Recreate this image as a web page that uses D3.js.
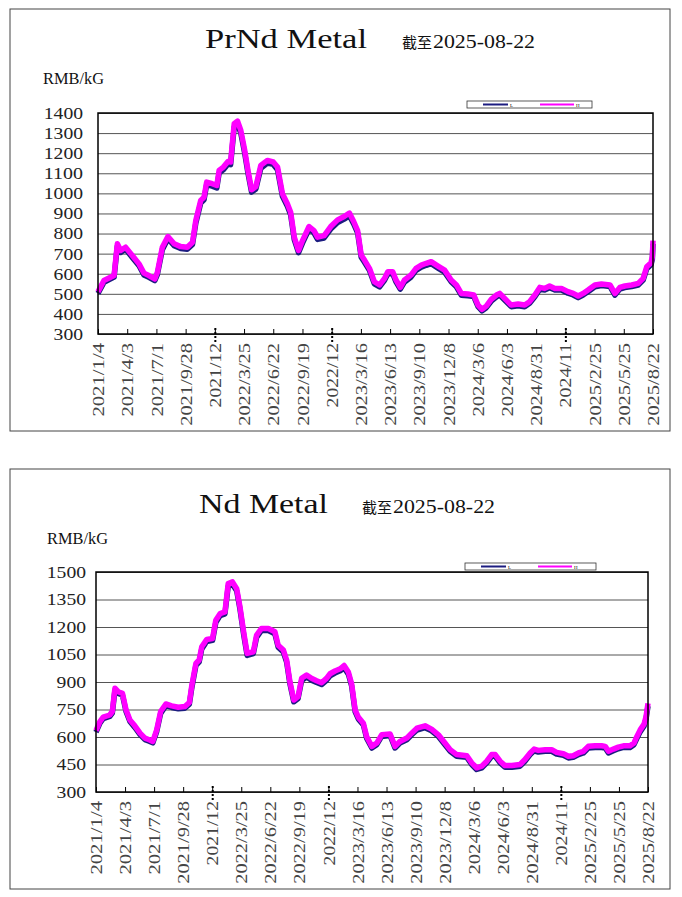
<!DOCTYPE html>
<html>
<head>
<meta charset="utf-8">
<script src="https://cdn.jsdelivr.net/npm/d3@7"></script>
<style>
  body { margin: 0; background: #fff; }
</style>
</head>
<body>
<svg id="chart" width="682" height="897"></svg>
<script>
// x axis: one label every 89 days
const tickDates = ["2021-01-04","2021-04-03","2021-07-01","2021-09-28","2021-12-26","2022-03-25","2022-06-22","2022-09-19","2022-12-17","2023-03-16","2023-06-13","2023-09-10","2023-12-08","2024-03-06","2024-06-03","2024-08-31","2024-11-28","2025-02-25","2025-05-25","2025-08-22"];
const tickLabels = ["2021/1/4","2021/4/3","2021/7/1","2021/9/28","2021/12","2022/3/25","2022/6/22","2022/9/19","2022/12","2023/3/16","2023/6/13","2023/9/10","2023/12/8","2024/3/6","2024/6/3","2024/8/31","2024/11","2025/2/25","2025/5/25","2025/8/22"];
const dottedLabels = ["2021/12","2022/12","2024/11"];

// PrNd metal, RMB/kG
const prndDates = ["2021-01-04","2021-01-22","2021-02-22","2021-03-04","2021-03-14","2021-03-29","2021-04-19","2021-05-09","2021-05-24","2021-06-08","2021-06-26","2021-07-04","2021-07-19","2021-08-05","2021-08-24","2021-09-13","2021-10-03","2021-10-19","2021-10-29","2021-11-13","2021-11-23","2021-12-01","2021-12-18","2022-01-01","2022-01-08","2022-01-21","2022-02-04","2022-02-12","2022-02-23","2022-03-05","2022-03-15","2022-03-27","2022-04-06","2022-04-17","2022-04-30","2022-05-15","2022-06-04","2022-06-22","2022-07-05","2022-07-20","2022-08-04","2022-08-14","2022-08-25","2022-09-07","2022-09-19","2022-10-09","2022-10-24","2022-11-04","2022-11-24","2022-12-14","2023-01-04","2023-01-24","2023-02-09","2023-02-22","2023-03-06","2023-03-17","2023-03-27","2023-04-11","2023-04-26","2023-05-12","2023-05-27","2023-06-06","2023-06-21","2023-07-01","2023-07-14","2023-07-27","2023-08-16","2023-08-31","2023-09-16","2023-10-01","2023-10-16","2023-11-06","2023-11-26","2023-12-16","2024-01-01","2024-01-16","2024-02-05","2024-02-23","2024-03-07","2024-03-19","2024-04-01","2024-04-16","2024-05-02","2024-05-12","2024-05-27","2024-06-16","2024-07-07","2024-07-27","2024-08-11","2024-08-27","2024-09-11","2024-09-26","2024-10-11","2024-10-27","2024-11-16","2024-12-06","2024-12-22","2025-01-06","2025-01-21","2025-02-05","2025-02-26","2025-03-18","2025-04-13","2025-04-28","2025-05-13","2025-05-28","2025-06-18","2025-07-08","2025-07-23","2025-08-03","2025-08-16","2025-08-20","2025-08-22"];
const prndHigh = [510,566,591,749,716,732,690,649,603,591,574,607,732,785,749,735,732,757,865,965,981,1056,1048,1039,1114,1131,1159,1156,1347,1360,1314,1214,1114,1018,1034,1139,1164,1156,1131,998,948,906,782,716,765,835,815,782,790,835,868,885,902,860,815,693,668,627,560,544,577,610,610,569,532,569,594,627,643,652,660,638,618,569,544,502,499,494,444,423,439,472,494,502,477,444,449,444,461,494,532,527,539,527,527,511,502,489,502,519,544,549,544,502,532,539,544,552,577,635,655,685,765];
const prndLow = [502,557,583,738,706,722,680,640,594,582,566,597,720,774,740,726,722,746,852,952,968,1043,1036,1027,1100,1118,1146,1143,1330,1345,1300,1200,1100,1006,1022,1125,1151,1144,1118,985,936,893,770,705,752,822,803,771,778,822,855,872,889,848,803,682,657,617,550,535,567,600,600,559,523,559,584,617,633,642,650,628,608,560,535,493,490,486,436,415,431,463,485,494,469,436,441,436,453,485,523,519,530,519,519,503,494,481,494,510,535,541,536,494,524,531,536,544,568,625,645,672,748];
const prndYTicks = [300,400,500,600,700,800,900,1000,1100,1200,1300,1400];

// Nd metal, RMB/kG
const ndDates = ["2021-01-04","2021-01-16","2021-01-26","2021-02-15","2021-02-23","2021-03-03","2021-03-13","2021-03-26","2021-04-06","2021-04-18","2021-05-03","2021-05-19","2021-06-03","2021-06-16","2021-06-27","2021-07-09","2021-07-21","2021-08-06","2021-08-24","2021-09-13","2021-10-03","2021-10-17","2021-10-24","2021-11-06","2021-11-16","2021-11-24","2021-12-09","2021-12-27","2022-01-06","2022-01-19","2022-02-03","2022-02-13","2022-02-26","2022-03-11","2022-03-21","2022-04-02","2022-04-12","2022-05-01","2022-05-11","2022-05-26","2022-06-16","2022-07-06","2022-07-16","2022-08-01","2022-08-11","2022-08-21","2022-09-02","2022-09-15","2022-09-26","2022-10-11","2022-10-26","2022-11-11","2022-11-26","2022-12-11","2022-12-22","2023-01-06","2023-01-22","2023-02-03","2023-02-16","2023-02-26","2023-03-09","2023-03-19","2023-04-03","2023-04-13","2023-04-29","2023-05-14","2023-05-29","2023-06-24","2023-07-09","2023-07-24","2023-08-14","2023-08-29","2023-09-14","2023-10-09","2023-10-29","2023-11-19","2023-12-09","2023-12-25","2024-01-14","2024-02-14","2024-02-29","2024-03-15","2024-03-31","2024-04-15","2024-04-30","2024-05-11","2024-05-26","2024-06-10","2024-07-01","2024-07-26","2024-08-10","2024-08-26","2024-09-07","2024-09-20","2024-10-11","2024-10-31","2024-11-15","2024-12-06","2024-12-21","2025-01-05","2025-01-21","2025-02-05","2025-02-20","2025-03-13","2025-04-02","2025-04-13","2025-04-23","2025-05-08","2025-05-23","2025-06-08","2025-06-28","2025-07-10","2025-07-19","2025-07-29","2025-08-10","2025-08-16","2025-08-22"];
const ndHigh = [635,684,708,720,739,866,847,838,748,693,661,621,594,585,576,639,739,780,770,762,766,788,875,1001,1020,1092,1132,1137,1237,1273,1282,1437,1446,1409,1310,1165,1056,1065,1156,1192,1192,1174,1101,1074,1020,902,802,820,920,938,920,907,896,920,945,960,972,990,954,891,747,707,675,603,549,567,612,617,549,576,594,621,648,661,643,612,567,531,504,498,459,432,441,468,504,504,468,444,444,450,477,513,534,527,531,531,516,509,495,498,513,522,549,552,552,549,522,534,545,552,552,567,603,639,671,711,783];
const ndLow = [627,676,700,712,730,854,838,829,739,685,652,613,586,577,568,630,728,771,761,754,757,779,863,990,1010,1080,1121,1127,1224,1262,1272,1422,1433,1397,1298,1152,1045,1055,1144,1181,1181,1163,1090,1063,1008,891,792,810,908,927,910,897,886,909,934,949,961,978,943,880,737,697,666,594,540,558,603,608,540,567,585,612,638,651,634,603,558,522,495,489,450,423,432,459,495,495,459,435,435,441,468,504,525,518,522,522,507,500,486,489,504,513,540,543,543,540,513,525,536,543,543,558,593,628,660,698,768];
const ndYTicks = [300,450,600,750,900,1050,1200,1350,1500];

const parse = d3.timeParse("%Y-%m-%d");
const serif = "'Liberation Serif', 'DejaVu Serif', serif";
const cjk = "'Noto Sans CJK SC', sans-serif";
const svg = d3.select("#chart");

function drawPanel(o) {
  const g = svg.append("g");

  // outer frame
  g.append("rect")
    .attr("x", o.box[0]).attr("y", o.box[1])
    .attr("width", o.box[2]).attr("height", o.box[3])
    .attr("fill", "none").attr("stroke", "#444").attr("stroke-width", 1);

  // titles
  g.append("text")
    .attr("x", o.titleX).attr("y", o.titleY)
    .attr("textLength", o.titleW).attr("lengthAdjust", "spacingAndGlyphs")
    .style("font-family", serif).style("font-size", "27px").attr("fill", "#111")
    .text(o.title);
  g.append("text")
    .attr("x", o.subX).attr("y", o.titleY)
    .style("font-family", cjk).style("font-size", "15px").attr("fill", "#111")
    .text("截至");
  g.append("text")
    .attr("x", o.subX + 31).attr("y", o.titleY)
    .attr("textLength", 102).attr("lengthAdjust", "spacingAndGlyphs")
    .style("font-family", serif).style("font-size", "18px").attr("fill", "#111")
    .text("2025-08-22");
  g.append("text")
    .attr("x", o.unitX).attr("y", o.unitY)
    .attr("textLength", 61).attr("lengthAdjust", "spacingAndGlyphs")
    .style("font-family", serif).style("font-size", "17px").attr("fill", "#111")
    .text("RMB/kG");

  const x = d3.scaleTime()
    .domain([parse(tickDates[0]), parse(tickDates[tickDates.length - 1])])
    .range([o.l, o.r]);
  const y = d3.scaleLinear().domain(o.yDomain).range([o.b, o.t]);

  // horizontal grid
  const grid = g.append("g")
    .attr("transform", `translate(${o.l},0)`)
    .call(d3.axisLeft(y).tickValues(o.yTicks).tickSize(-(o.r - o.l)).tickFormat(""));
  grid.select(".domain").remove();
  grid.selectAll("line").attr("stroke", "#555").attr("stroke-width", 1);

  // y labels
  g.selectAll(".ylab").data(o.yTicks).join("text")
    .attr("class", "ylab")
    .attr("x", o.labelRight).attr("y", d => y(d)).attr("dy", "0.35em")
    .attr("text-anchor", "end")
    .attr("textLength", d => String(d).length * 9.8).attr("lengthAdjust", "spacingAndGlyphs")
    .style("font-family", serif).style("font-size", "17px").attr("fill", "#222")
    .text(d => d);

  // x axis: ticks point up into the plot, labels rotated
  const xa = g.append("g")
    .attr("transform", `translate(0,${o.b})`)
    .call(d3.axisBottom(x)
      .tickValues(tickDates.map(parse))
      .tickFormat((d, i) => tickLabels[i])
      .tickSizeInner(-5).tickSizeOuter(0));
  xa.select(".domain").remove();
  xa.selectAll("line").attr("stroke", "#000");
  xa.selectAll("text")
    .attr("transform", "rotate(-90)")
    .attr("text-anchor", "end")
    .attr("x", -9).attr("y", 0).attr("dy", "0.35em")
    .attr("textLength", (d, i) => tickLabels[i].length * 9.2)
    .attr("lengthAdjust", "spacingAndGlyphs")
    .style("font-family", serif).style("font-size", "16px").attr("fill", "#444");
  xa.selectAll(".tick")
    .filter((d, i) => dottedLabels.includes(tickLabels[i]))
    .append("line")
    .attr("y1", -6).attr("y2", 10)
    .attr("stroke", "#000").attr("stroke-width", 2)
    .attr("stroke-dasharray", "2,2");

  // series
  const rows = d3.range(o.dates.length).map(i => ({date: parse(o.dates[i]), lo: o.low[i], hi: o.high[i]}));
  const lineLo = d3.line().x(d => x(d.date)).y(d => y(d.lo));
  const lineHi = d3.line().x(d => x(d.date)).y(d => y(d.hi));
  g.append("path").datum(rows).attr("d", lineLo)
    .attr("fill", "none").attr("stroke", "#1c1c80").attr("stroke-width", 5.5)
    .attr("stroke-linejoin", "round");
  g.append("path").datum(rows).attr("d", lineHi)
    .attr("fill", "none").attr("stroke", "#ff00ff").attr("stroke-width", 5.5)
    .attr("stroke-linejoin", "round");

  // plot frame
  g.append("rect")
    .attr("x", o.l).attr("y", o.t)
    .attr("width", o.r - o.l).attr("height", o.b - o.t)
    .attr("fill", "none").attr("stroke", "#000").attr("stroke-width", 1.5);

  // legend
  const [lx, ly, lw, lh] = o.legend;
  const lg = g.append("g");
  lg.append("rect").attr("x", lx).attr("y", ly).attr("width", lw).attr("height", lh)
    .attr("fill", "#fff").attr("stroke", "#333").attr("stroke-width", 0.8);
  lg.append("line").attr("x1", lx + 16).attr("x2", lx + 41).attr("y1", ly + lh / 2).attr("y2", ly + lh / 2)
    .attr("stroke", "#1c1c80").attr("stroke-width", 2);
  lg.append("text").attr("x", lx + 43).attr("y", ly + lh / 2 + 2)
    .style("font-size", "5px").style("font-family", serif).text("L");
  lg.append("line").attr("x1", lx + 73).attr("x2", lx + 107).attr("y1", ly + lh / 2).attr("y2", ly + lh / 2)
    .attr("stroke", "#ff00ff").attr("stroke-width", 2);
  lg.append("text").attr("x", lx + 109).attr("y", ly + lh / 2 + 2)
    .style("font-size", "5px").style("font-family", serif).text("H");
}

drawPanel({
  box: [10, 9, 660, 422],
  title: "PrNd Metal", titleX: 205, titleY: 48, titleW: 162, subX: 402,
  unitX: 43, unitY: 84, labelRight: 83,
  l: 98, r: 653, t: 113, b: 334,
  yDomain: [300, 1400], yTicks: prndYTicks,
  dates: prndDates, low: prndLow, high: prndHigh,
  legend: [467, 101, 125, 7]
});

drawPanel({
  box: [10, 469, 660, 420],
  title: "Nd Metal", titleX: 199, titleY: 513, titleW: 129, subX: 362,
  unitX: 47, unitY: 544, labelRight: 86,
  l: 96, r: 648, t: 572, b: 792,
  yDomain: [300, 1500], yTicks: ndYTicks,
  dates: ndDates, low: ndLow, high: ndHigh,
  legend: [465, 563, 131, 7]
});
</script>
</body>
</html>
